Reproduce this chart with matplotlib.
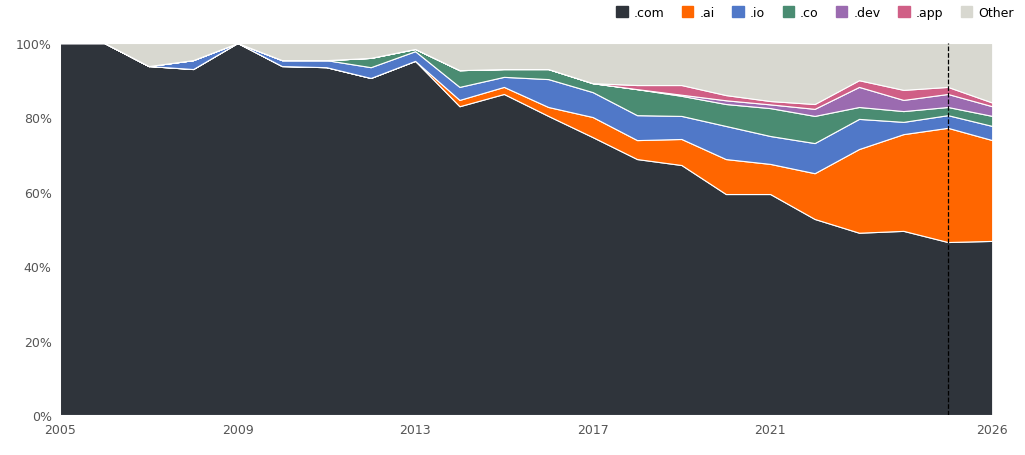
import matplotlib.pyplot as plt
import numpy as np

years = list(range(2005, 2027))
com = [100, 100, 93.8, 93.0, 100, 93.8, 93.5, 90.6, 95.2, 83.0, 86.3, 80.4, 74.7, 68.8, 67.2, 59.4, 59.4, 52.7, 49.0, 49.5, 46.5, 46.8]
ai = [0, 0, 0, 0, 0, 0, 0, 0, 0, 1.7, 1.9, 2.4, 5.4, 5.1, 7.0, 9.4, 8.1, 12.3, 22.5, 26.0, 30.7, 27.1]
io = [0, 0, 0, 2.4, 0, 1.6, 1.9, 2.9, 2.6, 3.5, 2.7, 7.5, 6.7, 6.7, 6.2, 8.9, 7.5, 8.1, 8.1, 3.3, 3.4, 3.8]
co = [0, 0, 0, 0, 0, 0, 0, 2.5, 0.6, 4.5, 2.1, 2.7, 2.4, 7.0, 5.4, 5.9, 7.5, 7.3, 3.2, 2.9, 2.2, 2.7]
dev = [0, 0, 0, 0, 0, 0, 0, 0, 0, 0, 0, 0, 0, 0, 0.3, 1.0, 1.0, 1.9, 5.4, 3.0, 3.5, 2.6]
app = [0, 0, 0, 0, 0, 0, 0, 0, 0, 0, 0, 0, 0, 1.1, 2.6, 1.4, 0.9, 1.3, 1.8, 2.7, 1.9, 1.0]
series = [com, ai, io, co, dev, app]
other = [100 - sum(v) for v in zip(*series)]
labels = [".com", ".ai", ".io", ".co", ".dev", ".app", "Other"]
colors = ["#2f343b", "#ff6600", "#5078c8", "#4a8c72", "#9b6bb0", "#d05f86", "#d8d8d0"]

fig = plt.figure(figsize=(10.25, 4.56), dpi=100)
ax = fig.add_axes([0.0585, 0.0877, 0.9095, 0.8158])
ax.stackplot(years, *series, other, colors=colors, labels=labels,
             edgecolor="white", linewidth=0.8)
ax.axvline(2025, color="black", linestyle="--", linewidth=0.9)
ax.set_xlim(2005, 2026)
ax.set_ylim(0, 100)
ax.set_xticks([2005, 2009, 2013, 2017, 2021, 2026])
ax.set_yticks(range(0, 101, 20))
ax.set_yticklabels([f"{v}%" for v in range(0, 101, 20)])
ax.tick_params(length=0, labelsize=9, colors="#555555", pad=6)
ax.grid(axis="y", color="#e6e6e6", linewidth=0.8)
ax.set_axisbelow(True)
for s in ax.spines.values():
    s.set_visible(False)
handles = [plt.Rectangle((0, 0), 1, 1, color=c) for c in colors]
fig.legend(handles, labels, loc="upper right", bbox_to_anchor=(1.0, 1.01), ncol=7,
           frameon=False, fontsize=9, handlelength=0.9, handleheight=0.9,
           handletextpad=0.5, columnspacing=1.4)
fig.savefig("out.png")
